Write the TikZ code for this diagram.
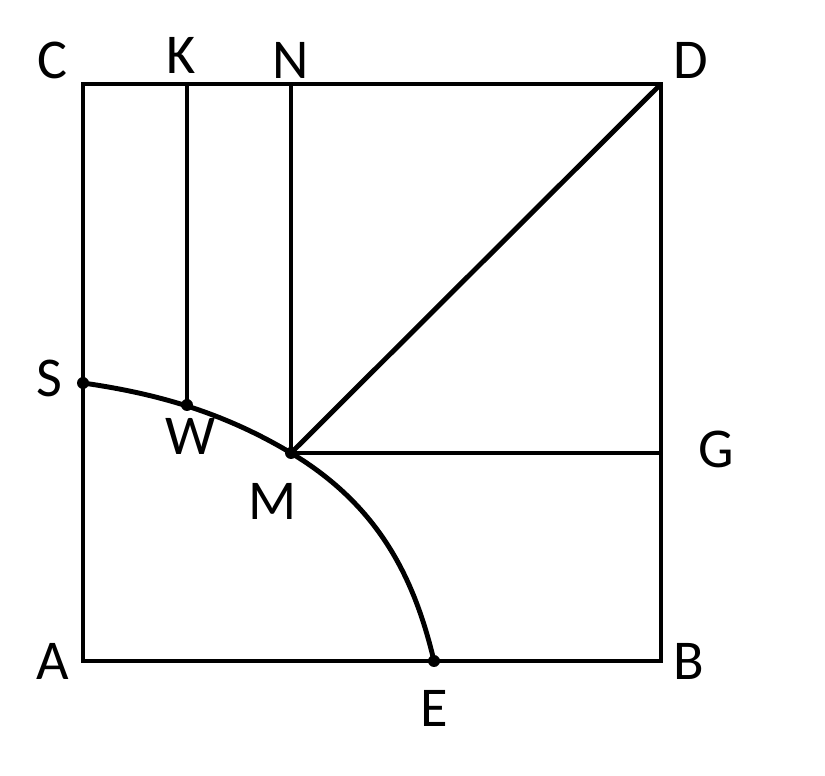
\documentclass[tikz,border=0pt]{standalone}
\usepackage{fontspec}
\setmainfont{Carlito}
\begin{document}
\begin{tikzpicture}[x=0.02cm,y=-0.02cm,
  edge/.style={line width=2.8pt, line join=miter},
  lab/.style={font=\fontsize{32}{38}\selectfont, inner sep=0pt},
  dot/.style={circle, fill=black, inner sep=0pt, minimum size=0.24cm}]
\useasboundingbox (0,0) rectangle (825,776);
% corners and points
\coordinate (A) at (83,661);
\coordinate (B) at (661,661);
\coordinate (C) at (83,84);
\coordinate (D) at (661,84);
\coordinate (K) at (187,84);
\coordinate (N) at (291,84);
\coordinate (S) at (83,383);
\coordinate (W) at (187,405);
\coordinate (M) at (291,453);
\coordinate (G) at (661,453);
\coordinate (E) at (434,661);
\coordinate (c1) at (153,393);
\coordinate (c2) at (221,411);
\coordinate (c3) at (381,507);
\coordinate (c4) at (415,581);
% square
\draw[edge] (A) -- (B) -- (D) -- (C) -- cycle;
% inner lines
\draw[edge] (K) -- (W);
\draw[edge] (N) -- (M);
\draw[edge] (M) -- (D);
\draw[edge] (M) -- (G);
% arc
\draw[edge] (S) .. controls (c1) and (c2) .. (M) .. controls (c3) and (c4) .. (E);
% dots
\node[dot] at (S) {};
\node[dot] at (W) {};
\node[dot] at (M) {};
\node[dot] at (E) {};
% labels
\node[lab] (lC) at (52,60) {C};
\node[lab] (lK) at (181,55) {K};
\node[lab] (lN) at (291,60) {N};
\node[lab] (lD) at (691,60) {D};
\node[lab] (lS) at (49,378) {S};
\node[lab] (lW) at (191,436) {W};
\node[lab] (lM) at (273,501) {M};
\node[lab] (lG) at (716,449) {G};
\node[lab] (lA) at (53,661) {A};
\node[lab] (lB) at (689,661) {B};
\node[lab] (lE) at (434,708) {E};
\end{tikzpicture}
\end{document}
